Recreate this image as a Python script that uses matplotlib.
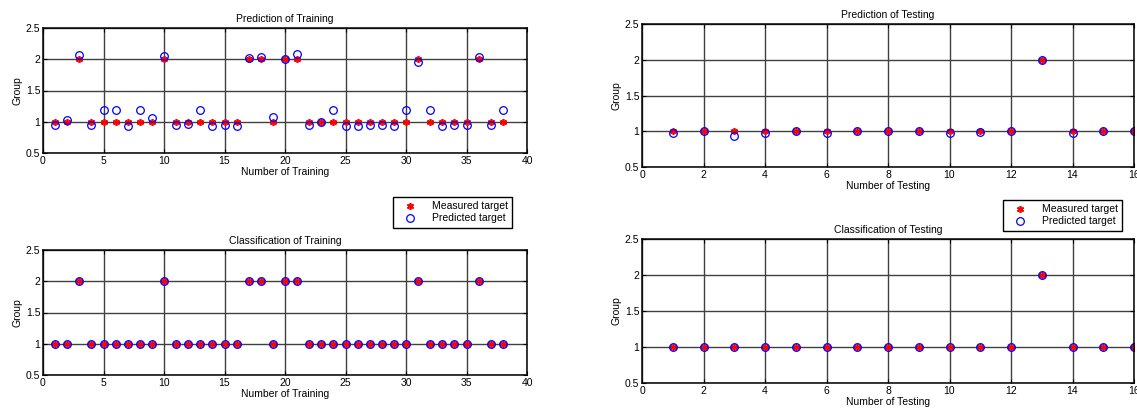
import matplotlib.pyplot as plt
import numpy as np

plt.rcParams['font.family'] = ['Liberation Sans', 'DejaVu Sans']
plt.rcParams['font.size'] = 7.5

# training data (38 samples)
train_measured = [1, 1, 2, 1, 1, 1, 1, 1, 1, 2, 1, 1, 1, 1, 1, 1, 2, 2, 1, 2,
                  2, 1, 1, 1, 1, 1, 1, 1, 1, 1, 2, 1, 1, 1, 1, 2, 1, 1]
train_predicted = [0.95, 1.03, 2.07, 0.95, 1.19, 1.19, 0.94, 1.19, 1.06, 2.05,
                   0.95, 0.96, 1.19, 0.94, 0.95, 0.94, 2.02, 2.04, 1.07, 2.00,
                   2.09, 0.95, 0.99, 1.19, 0.94, 0.94, 0.95, 0.95, 0.94, 1.19,
                   1.96, 1.19, 0.94, 0.95, 0.95, 2.04, 0.95, 1.19]
train_class = [1, 1, 2, 1, 1, 1, 1, 1, 1, 2, 1, 1, 1, 1, 1, 1, 2, 2, 1, 2,
               2, 1, 1, 1, 1, 1, 1, 1, 1, 1, 2, 1, 1, 1, 1, 2, 1, 1]

# testing data (16 samples)
test_measured = [1, 1, 1, 1, 1, 1, 1, 1, 1, 1, 1, 1, 2, 1, 1, 1]
test_predicted = [0.98, 1.00, 0.93, 0.98, 1.00, 0.98, 1.00, 1.00, 1.00, 0.98,
                  0.99, 1.00, 1.99, 0.98, 1.00, 1.00]
test_class = [1, 1, 1, 1, 1, 1, 1, 1, 1, 1, 1, 1, 2, 1, 1, 1]

W, H = 1137, 412
fig = plt.figure(figsize=(W / 100, H / 100), dpi=100)


def box(x0, y0, x1, y1):
    return [x0 / W, 1 - y1 / H, (x1 - x0) / W, (y1 - y0) / H]


def panel(rect, measured, predicted, xmax, xticks, title, xlabel):
    ax = fig.add_axes(rect)
    n = np.arange(1, len(measured) + 1)
    # matlab style asterisk
    ax.plot(n, measured, marker=(6, 2, 0), ls='none', color='red',
            markersize=5, mew=1.2, label='Measured target')
    ax.plot(n, predicted, 'o', mfc='none', mec='blue', markersize=5.5, mew=0.9,
            label='Predicted target')
    ax.set_xlim(0, xmax)
    ax.set_ylim(0.5, 2.5)
    ax.set_xticks(xticks)
    ax.set_yticks([0.5, 1, 1.5, 2, 2.5])
    ax.set_yticklabels(['0.5', '1', '1.5', '2', '2.5'])
    ax.grid(True, color='0.25', linewidth=1.0)
    ax.set_axisbelow(True)
    ax.tick_params(direction='in', length=3, right=True, top=True, pad=2)
    for s in ax.spines.values():
        s.set_linewidth(1.1)
    ax.set_title(title, fontsize=7.5, pad=4)
    ax.set_xlabel(xlabel, labelpad=1)
    ax.set_ylabel('Group', labelpad=2)
    return ax


ax1 = panel(box(43, 28, 527, 153), train_measured, train_predicted, 40,
            range(0, 41, 5), 'Prediction of Training', 'Number of Training')
ax2 = panel(box(43, 250, 527, 375), train_measured, train_class, 40,
            range(0, 41, 5), 'Classification of Training', 'Number of Training')
ax3 = panel(box(642, 24, 1134, 167), test_measured, test_predicted, 16,
            range(0, 17, 2), 'Prediction of Testing', 'Number of Testing')
ax4 = panel(box(642, 239, 1134, 383), test_measured, test_class, 16,
            range(0, 17, 2), 'Classification of Testing', 'Number of Testing')

for ax, (x, y) in [(ax1, (517, 192)), (ax3, (1127, 195))]:
    leg = ax.legend(loc='upper right', bbox_to_anchor=(x / W, 1 - y / H),
                    bbox_transform=fig.transFigure, numpoints=1, fancybox=False,
                    framealpha=1, edgecolor='black', fontsize=7.5,
                    handlelength=2.5, borderpad=0.4, labelspacing=0.2)
    leg.get_frame().set_linewidth(1.0)

fig.savefig('out.png', dpi=100)
